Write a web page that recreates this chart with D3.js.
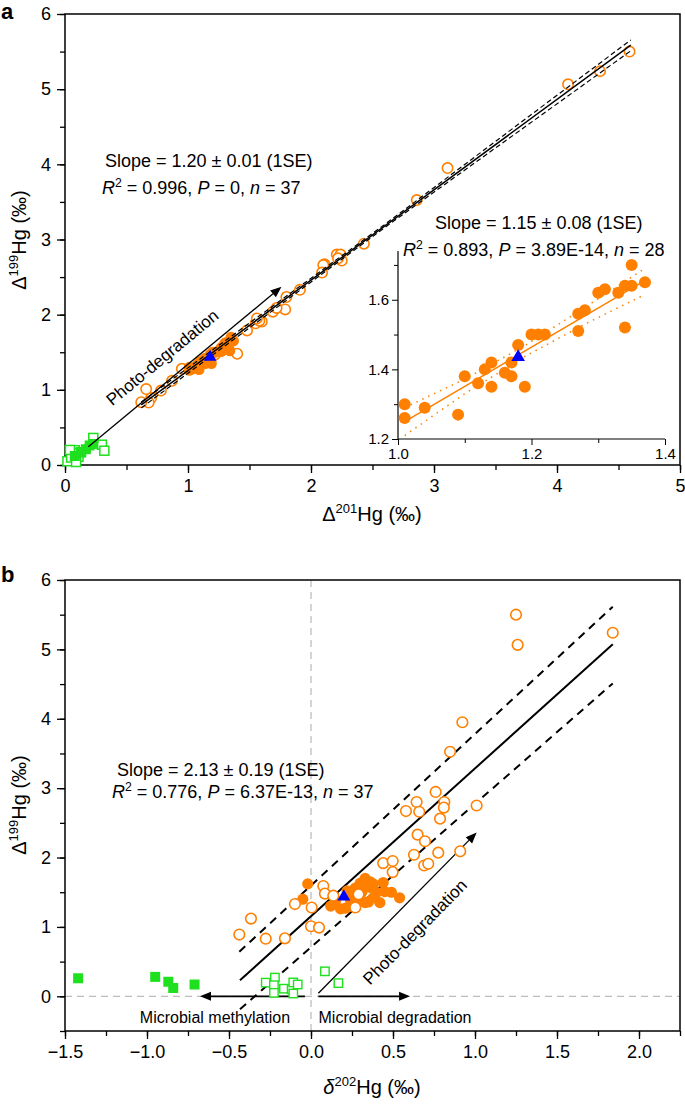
<!DOCTYPE html>
<html><head><meta charset="utf-8">
<script src="https://cdn.jsdelivr.net/npm/d3@7"></script>
<style>
html,body{margin:0;padding:0;background:#fff;}
text{font-family:"Liberation Sans",Arial,Helvetica,sans-serif;fill:#000;}
</style></head>
<body>
<svg id="chart" width="685" height="1104"></svg>
<script>
// ---------------- DATA ----------------
// Filled orange circles (n = 28)
const fillD201 = [1.01,1.01,1.04,1.09,1.10,1.12,1.13,1.14,1.14,1.16,1.17,1.17,1.18,1.19,1.20,1.21,1.22,1.27,1.28,1.27,1.30,1.31,1.33,1.34,1.35,1.35,1.37,1.34];
const fillD199 = [1.30,1.26,1.29,1.27,1.38,1.36,1.40,1.42,1.35,1.39,1.38,1.42,1.47,1.35,1.50,1.50,1.50,1.56,1.57,1.51,1.62,1.63,1.62,1.64,1.64,1.70,1.65,1.52];
const fillD202 = [0.12,0.18,0.26,0.21,0.30,0.35,-0.05,0.38,0.33,0.24,0.15,0.54,0.28,0.42,0.40,0.49,0.31,0.27,0.36,0.45,-0.02,0.30,0.38,0.44,0.34,0.33,0.36,0.22];
// Open orange circles
const openD201 = [4.59,4.09,4.35,3.11,2.86,2.43,2.21,2.24,2.11,2.10,2.25,2.09,2.22,1.91,1.80,1.69,1.79,1.55,1.60,1.72,1.58,1.56,1.48,0.95,0.70,0.87,0.68,0.62,1.08,1.03,0.66,0.78,1.30,1.40,1.20,1.22];
const openD199 = [5.50,5.065,5.24,3.95,3.525,2.945,2.80,2.80,2.67,2.66,2.72,2.56,2.75,2.33,2.235,2.04,2.07,1.885,1.91,2.09,1.92,1.95,1.79,1.28,0.89,1.12,0.83,0.835,1.33,1.28,1.01,0.99,1.59,1.48,1.45,1.47];
const openD202 = [1.25,1.26,1.84,0.923,0.848,0.76,0.644,0.813,0.579,0.66,0.81,0.787,1.01,0.65,0.695,0.628,0.776,0.69,0.715,0.91,0.44,0.498,0.498,0.27,-0.437,-0.366,-0.276,-0.159,-0.098,0.004,0.0,0.049,0.075,0.085,0.136,0.29];
// Filled green squares
const gFillD201 = [0.20,0.23,0.17,0.08,0.13];
const gFillD199 = [0.26,0.28,0.21,0.12,0.17];
const gFillD202 = [-1.42,-0.95,-0.87,-0.84,-0.71];
// Open green squares
const gOpenD201 = [0.08,0.30,0.06,0.02,0.11,0.05,0.04,0.13,0.09,0.23,0.32];
const gOpenD199 = [0.197,0.27,0.16,0.05,0.11,0.10,0.20,0.17,0.04,0.36,0.19];
const gOpenD202 = [-0.276,-0.22,-0.226,-0.226,-0.165,-0.118,-0.108,-0.081,-0.108,0.085,0.167];
// Blue triangle
const triD201 = [1.18], triD199 = [1.435], triD202 = [0.20];

// Regression lines & bands
const aFitX = [0.62, 4.6],  aFitY = [0.80, 5.585];
const aBandX = [0.62, 2.6, 4.6], aBandUp = [0.84, 3.20, 5.655], aBandLo = [0.76, 3.16, 5.51];
const inFitX = [1.01, 1.37], inFitY = [1.25, 1.655];
const inBandX = [1.01, 1.10, 1.19, 1.28, 1.37];
const inBandUp = [1.29, 1.372, 1.468, 1.578, 1.69];
const inBandLo = [1.21, 1.330, 1.437, 1.530, 1.615];
const bFitX = [-0.433, 1.84], bFitY = [0.23, 5.075];
const bUpX = [-0.437, 1.84], bUpY = [0.643, 5.616];
const bLoX = [-0.433, 1.84], bLoY = [-0.187, 4.51];

// Ticks
const aXTicks = [0,1,2,3,4,5], aYTicks = [0,1,2,3,4,5,6];
const inXTicks = [1.0,1.2,1.4], inYTicks = [1.2,1.4,1.6];
const bXTicks = [-1.5,-1.0,-0.5,0.0,0.5,1.0,1.5,2.0], bYTicks = [0,1,2,3,4,5,6];

// Arrows (data units)
const aArrow = [[0.19,0.243],[1.76,2.37]];
const bPhotoArrow = [[0.045,0.043],[1.01,2.36]];
const bMethArrow = [[-0.037,0],[-0.677,0]];
const bDegArrow = [[0.045,0],[0.604,0]];

// ---------------- DRAW ----------------
const ORANGE = "#FF8000", GREEN = "#1EE01E", BLUE = "#0000FF";
const svg = d3.select("#chart");

const ax = d3.scaleLinear([0,5],[65,680]);
const ay = d3.scaleLinear([0,6],[465,14]);
const ix = d3.scaleLinear([1.0,1.4],[398,665]);
const iy = d3.scaleLinear([1.2,1.74],[439,251]);
const bx = d3.scaleLinear([-1.5,2.25],[65,680]);
const by = d3.scaleLinear([-0.5,6],[1031,580]);

function frame(g, xs, ys){
  const [x0,x1] = xs.range(), [y0,y1] = ys.range();
  g.append("rect").attr("x",x0).attr("y",y1).attr("width",x1-x0).attr("height",y0-y1)
    .attr("fill","none").attr("stroke","#000").attr("stroke-width",1.5);
}
function xAxis(g, xs, ys, ticks, minorStep, fmt, fs){
  const y0 = ys.range()[0];
  const d = xs.domain();
  const minors = d3.range(Math.ceil(d[0]/minorStep), Math.floor(d[1]/minorStep)+1).map(k=>k*minorStep);
  g.append("g").attr("transform",`translate(0,${y0})`)
    .call(d3.axisBottom(xs).tickValues(minors).tickSize(5).tickFormat(""))
    .call(s=>{s.select(".domain").remove(); s.selectAll("line").attr("stroke-width",1.3);});
  const a = g.append("g").attr("transform",`translate(0,${y0})`)
    .call(d3.axisBottom(xs).tickValues(ticks).tickSize(8).tickPadding(6).tickFormat(fmt));
  a.select(".domain").remove();
  a.selectAll("line").attr("stroke-width",1.3);
  a.selectAll("text").attr("font-size",fs).attr("font-family","Liberation Sans, Arial");
}
function yAxis(g, xs, ys, ticks, minorStep, fmt, fs){
  const x0 = xs.range()[0];
  const d = ys.domain();
  const minors = d3.range(Math.ceil(d[0]/minorStep-1e-9), Math.floor(d[1]/minorStep+1e-9)+1).map(k=>k*minorStep);
  g.append("g").attr("transform",`translate(${x0},0)`)
    .call(d3.axisLeft(ys).tickValues(minors).tickSize(5).tickFormat(""))
    .call(s=>{s.select(".domain").remove(); s.selectAll("line").attr("stroke-width",1.3);});
  const a = g.append("g").attr("transform",`translate(${x0},0)`)
    .call(d3.axisLeft(ys).tickValues(ticks).tickSize(8).tickPadding(6).tickFormat(fmt));
  a.select(".domain").remove();
  a.selectAll("line").attr("stroke-width",1.3);
  a.selectAll("text").attr("font-size",fs).attr("font-family","Liberation Sans, Arial");
}
function arrow(g, p0, p1, xs, ys, w){
  const x0=xs(p0[0]), y0=ys(p0[1]), x1=xs(p1[0]), y1=ys(p1[1]);
  const ang = Math.atan2(y1-y0, x1-x0), L = 11, H = 4.5;
  const bx_ = x1 - L*Math.cos(ang), by_ = y1 - L*Math.sin(ang);
  g.append("line").attr("x1",x0).attr("y1",y0).attr("x2",bx_).attr("y2",by_)
    .attr("stroke","#000").attr("stroke-width",w);
  const px = -Math.sin(ang)*H, py = Math.cos(ang)*H;
  g.append("path").attr("d",`M${x1},${y1}L${bx_+px},${by_+py}L${bx_-px},${by_-py}Z`).attr("fill","#000");
  return Math.atan2(y1-y0, x1-x0)*180/Math.PI;
}
function statLine(g, x, y, parts, fs){
  const t = g.append("text").attr("x",x).attr("y",y).attr("font-size",fs);
  parts.forEach(p=>{
    const s = t.append("tspan").text(p.t);
    if(p.i) s.attr("font-style","italic");
    if(p.sup) s.attr("dy",-7).attr("font-size",fs*0.68);
    if(p.after) s.attr("dy",7);
  });
}
function idx(n){ return d3.range(n); }
const lineGen = (xs, ys) => d3.line().x(d=>xs(d[0])).y(d=>ys(d[1]));
const zip = (a,b) => a.map((v,i)=>[v,b[i]]);

// ======== PANEL A ========
const A = svg.append("g");
frame(A, ax, ay);
xAxis(A, ax, ay, aXTicks, 0.5, d3.format("d"), 18);
yAxis(A, ax, ay, aYTicks, 0.5, d3.format("d"), 18);

// green squares
A.selectAll(".gOa").data(idx(gOpenD201.length)).enter().append("rect")
  .attr("x",i=>ax(gOpenD201[i])-4.5).attr("y",i=>ay(gOpenD199[i])-4.5).attr("width",9).attr("height",9)
  .attr("fill","#fff").attr("stroke",GREEN).attr("stroke-width",1.5);
A.selectAll(".gFa").data(idx(gFillD201.length)).enter().append("rect")
  .attr("x",i=>ax(gFillD201[i])-5).attr("y",i=>ay(gFillD199[i])-5).attr("width",10).attr("height",10)
  .attr("fill",GREEN);
// open circles
A.selectAll(".oa").data(idx(openD201.length)).enter().append("circle")
  .attr("cx",i=>ax(openD201[i])).attr("cy",i=>ay(openD199[i])).attr("r",5.2)
  .attr("fill","#fff").attr("stroke",ORANGE).attr("stroke-width",1.6);
// filled circles
A.selectAll(".fa").data(idx(fillD201.length)).enter().append("circle")
  .attr("cx",i=>ax(fillD201[i])).attr("cy",i=>ay(fillD199[i])).attr("r",5.5).attr("fill",ORANGE);
// fit and bands
A.append("path").attr("d",lineGen(ax,ay)(zip(aBandX,aBandUp))).attr("fill","none")
  .attr("stroke","#000").attr("stroke-width",1.2).attr("stroke-dasharray","5,3");
A.append("path").attr("d",lineGen(ax,ay)(zip(aBandX,aBandLo))).attr("fill","none")
  .attr("stroke","#000").attr("stroke-width",1.2).attr("stroke-dasharray","5,3");
A.append("path").attr("d",lineGen(ax,ay)(zip(aFitX,aFitY))).attr("fill","none")
  .attr("stroke","#000").attr("stroke-width",1.5);
// triangle
A.selectAll(".ta").data(idx(triD201.length)).enter().append("path")
  .attr("d",d3.symbol(d3.symbolTriangle,70)())
  .attr("transform",i=>`translate(${ax(triD201[i])},${ay(triD199[i])})`).attr("fill",BLUE);
// arrow
const angA = arrow(A, aArrow[0], aArrow[1], ax, ay, 1.3);
A.append("text").attr("transform",`translate(166,362) rotate(${angA})`).attr("text-anchor","middle")
  .attr("font-size",17).text("Photo-degradation");
// stats
statLine(A, 105, 167, [{t:"Slope = 1.20 ± 0.01 (1SE)"}], 18);
statLine(A, 102, 194, [{t:"R",i:1},{t:"2",sup:1},{t:" = 0.996, ",after:1},{t:"P",i:1},{t:" = 0, "},{t:"n",i:1},{t:" = 37"}], 18);
// axis titles
A.append("text").attr("x",372).attr("y",521).attr("text-anchor","middle").attr("font-size",20)
  .html('Δ<tspan dy="-8" font-size="13">201</tspan><tspan dy="8">Hg (‰)</tspan>');
A.append("text").attr("transform","translate(26,240) rotate(-90)").attr("text-anchor","middle").attr("font-size",20)
  .html('Δ<tspan dy="-8" font-size="13">199</tspan><tspan dy="8">Hg (‰)</tspan>');
A.append("text").attr("x",1).attr("y",19).attr("font-size",22).attr("font-weight","bold").text("a");

// ---- Inset ----
const I = svg.append("g");
I.append("line").attr("x1",398).attr("x2",398).attr("y1",251).attr("y2",439).attr("stroke","#000").attr("stroke-width",1.2);
I.append("line").attr("x1",398).attr("x2",665).attr("y1",439).attr("y2",439).attr("stroke","#000").attr("stroke-width",1.2);
{
  const m = I.append("g").attr("transform","translate(0,439)")
    .call(d3.axisBottom(ix).tickValues([1.1,1.3]).tickSize(4).tickFormat(""));
  m.select(".domain").remove();
  const a = I.append("g").attr("transform","translate(0,439)")
    .call(d3.axisBottom(ix).tickValues(inXTicks).tickSize(6).tickPadding(3).tickFormat(d3.format(".1f")));
  a.select(".domain").remove();
  a.selectAll("text").attr("font-size",15).attr("font-family","Liberation Sans, Arial");
  const m2 = I.append("g").attr("transform","translate(398,0)")
    .call(d3.axisLeft(iy).tickValues([1.3,1.5,1.7]).tickSize(4).tickFormat(""));
  m2.select(".domain").remove();
  const b = I.append("g").attr("transform","translate(398,0)")
    .call(d3.axisLeft(iy).tickValues(inYTicks).tickSize(6).tickPadding(3).tickFormat(d3.format(".1f")));
  b.select(".domain").remove();
  b.selectAll("text").attr("font-size",15).attr("font-family","Liberation Sans, Arial");
}
I.append("path").attr("d",lineGen(ix,iy)(zip(inBandX,inBandUp))).attr("fill","none")
  .attr("stroke",ORANGE).attr("stroke-width",1.5).attr("stroke-dasharray","1.5,5");
I.append("path").attr("d",lineGen(ix,iy)(zip(inBandX,inBandLo))).attr("fill","none")
  .attr("stroke",ORANGE).attr("stroke-width",1.5).attr("stroke-dasharray","1.5,5");
I.append("path").attr("d",lineGen(ix,iy)(zip(inFitX,inFitY))).attr("fill","none")
  .attr("stroke",ORANGE).attr("stroke-width",1.5);
I.selectAll(".fi").data(idx(fillD201.length)).enter().append("circle")
  .attr("cx",i=>ix(fillD201[i])).attr("cy",i=>iy(fillD199[i])).attr("r",6).attr("fill",ORANGE);
I.selectAll(".ti").data(idx(triD201.length)).enter().append("path")
  .attr("d",d3.symbol(d3.symbolTriangle,80)())
  .attr("transform",i=>`translate(${ix(triD201[i])},${iy(triD199[i])})`).attr("fill",BLUE);
statLine(I, 435, 229, [{t:"Slope = 1.15 ± 0.08 (1SE)"}], 18);
statLine(I, 403, 256, [{t:"R",i:1},{t:"2",sup:1},{t:" = 0.893, ",after:1},{t:"P",i:1},{t:" = 3.89E-14, "},{t:"n",i:1},{t:" = 28"}], 18);

// ======== PANEL B ========
const B = svg.append("g");
// reference dashed lines
B.append("line").attr("x1",bx(0)).attr("x2",bx(0)).attr("y1",by(6)).attr("y2",by(-0.5))
  .attr("stroke","#bdbdbd").attr("stroke-width",1.3).attr("stroke-dasharray","7,5");
B.append("line").attr("x1",bx(-1.5)).attr("x2",bx(2.25)).attr("y1",by(0)).attr("y2",by(0))
  .attr("stroke","#bdbdbd").attr("stroke-width",1.3).attr("stroke-dasharray","7,5");
frame(B, bx, by);
xAxis(B, bx, by, bXTicks, 0.25, d=>d3.format(".1f")(d).replace("-","−"), 18);
yAxis(B, bx, by, bYTicks, 0.5, d3.format("d"), 18);
// fit & bands
B.append("path").attr("d",lineGen(bx,by)(zip(bUpX,bUpY))).attr("fill","none")
  .attr("stroke","#000").attr("stroke-width",2).attr("stroke-dasharray","8,6");
B.append("path").attr("d",lineGen(bx,by)(zip(bLoX,bLoY))).attr("fill","none")
  .attr("stroke","#000").attr("stroke-width",2).attr("stroke-dasharray","8,6");
B.append("path").attr("d",lineGen(bx,by)(zip(bFitX,bFitY))).attr("fill","none")
  .attr("stroke","#000").attr("stroke-width",2);
// arrows
arrow(B, bMethArrow[0], bMethArrow[1], bx, by, 1.8);
arrow(B, bDegArrow[0], bDegArrow[1], bx, by, 1.8);
const angB = arrow(B, bPhotoArrow[0], bPhotoArrow[1], bx, by, 1.3);
B.append("text").attr("transform",`translate(419,936) rotate(${angB})`).attr("text-anchor","middle")
  .attr("font-size",17).text("Photo-degradation");
B.append("text").attr("x",215).attr("y",1023).attr("text-anchor","middle").attr("font-size",16).text("Microbial methylation");
B.append("text").attr("x",395).attr("y",1023).attr("text-anchor","middle").attr("font-size",16).text("Microbial degradation");
// points
B.selectAll(".gOb").data(idx(gOpenD202.length)).enter().append("rect")
  .attr("x",i=>bx(gOpenD202[i])-4.2).attr("y",i=>by(gOpenD199[i])-4.2).attr("width",8.4).attr("height",8.4)
  .attr("fill","#fff").attr("stroke",GREEN).attr("stroke-width",1.4);
B.selectAll(".gFb").data(idx(gFillD202.length)).enter().append("rect")
  .attr("x",i=>bx(gFillD202[i])-5).attr("y",i=>by(gFillD199[i])-5).attr("width",10).attr("height",10)
  .attr("fill",GREEN);
B.selectAll(".fb").data(idx(fillD202.length)).enter().append("circle")
  .attr("cx",i=>bx(fillD202[i])).attr("cy",i=>by(fillD199[i])).attr("r",5.6).attr("fill",ORANGE);
B.selectAll(".ob").data(idx(openD202.length)).enter().append("circle")
  .attr("cx",i=>bx(openD202[i])).attr("cy",i=>by(openD199[i])).attr("r",5.3)
  .attr("fill","#fff").attr("stroke",ORANGE).attr("stroke-width",1.6);
B.selectAll(".tb").data(idx(triD202.length)).enter().append("path")
  .attr("d",d3.symbol(d3.symbolTriangle,75)())
  .attr("transform",i=>`translate(${bx(triD202[i])},${by(triD199[i])})`).attr("fill",BLUE);
// stats
statLine(B, 117, 776, [{t:"Slope = 2.13 ± 0.19 (1SE)"}], 18);
statLine(B, 112, 798, [{t:"R",i:1},{t:"2",sup:1},{t:" = 0.776, ",after:1},{t:"P",i:1},{t:" = 6.37E-13, "},{t:"n",i:1},{t:" = 37"}], 18);
// titles
B.append("text").attr("x",372).attr("y",1094).attr("text-anchor","middle").attr("font-size",20)
  .html('<tspan font-style="italic">δ</tspan><tspan dy="-8" font-size="13">202</tspan><tspan dy="8">Hg (‰)</tspan>');
B.append("text").attr("transform","translate(26,805) rotate(-90)").attr("text-anchor","middle").attr("font-size",20)
  .html('Δ<tspan dy="-8" font-size="13">199</tspan><tspan dy="8">Hg (‰)</tspan>');
B.append("text").attr("x",1).attr("y",582).attr("font-size",22).attr("font-weight","bold").text("b");
</script>
</body></html>
